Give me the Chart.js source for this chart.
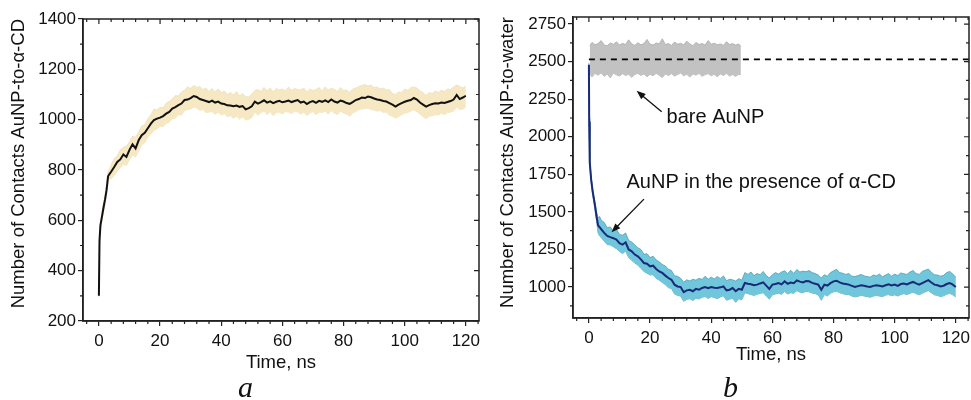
<!DOCTYPE html>
<html>
<head>
<meta charset="utf-8">
<script src="https://cdn.jsdelivr.net/npm/chart.js@4.4.1/dist/chart.umd.min.js"></script>
<style>
  html, body { margin: 0; background: #fff; }
  #wrap { position: relative; width: 971px; height: 400px; overflow: hidden; }
  .pane { position: absolute; top: 0; height: 400px; }
  .tag { position: absolute; top: 372px; font: italic 30px/30px "Liberation Serif", "DejaVu Serif", serif; color: #111; }
</style>
</head>
<body>
<div id="wrap">
  <div class="pane" style="left:0;width:487px"><canvas id="chartA"></canvas></div>
  <div class="pane" style="left:487px;width:490px"><canvas id="chartB"></canvas></div>
  <div class="tag" style="left:238px">a</div>
  <div class="tag" style="left:723px">b</div>
</div>
<script>
/* contactos AuNP: (a) con α-CD, (b) con agua */
const INK = '#111', FRAME = '#222';

/* ---- panel a: tiempo (ns), media y banda ---- */
const tA = [0, 0.2, 0.5, 1, 1.5, 2, 2.5, 3, 3.5,
  4, 5, 6, 7, 8, 9, 10, 11, 12, 13, 14, 15, 16, 17, 18, 19, 20,
  21, 22, 23, 24, 25, 26, 27, 28, 29, 30, 31, 32, 33, 34, 35, 36, 37, 38, 39, 40,
  41, 42, 43, 44, 45, 46, 47, 48, 49, 50, 51, 52, 53, 54, 55, 56, 57, 58, 59, 60,
  61, 62, 63, 64, 65, 66, 67, 68, 69, 70, 71, 72, 73, 74, 75, 76, 77, 78, 79, 80,
  81, 82, 83, 84, 85, 86, 87, 88, 89, 90, 91, 92, 93, 94, 95, 96, 97, 98, 99, 100,
  101, 102, 103, 104, 105, 106, 107, 108, 109, 110, 111, 112, 113, 114, 115, 116, 117, 118, 119, 120];
const meanA = [300, 520, 580, 615, 650, 682, 720, 775, 785,
  793, 812, 832, 842, 862, 852, 880, 902, 886, 918, 938, 948, 966, 984, 998, 1004, 1008,
  1014, 1024, 1031, 1044, 1050, 1058, 1064, 1078, 1080, 1086, 1094, 1090, 1082, 1078, 1074, 1070, 1076, 1068, 1072, 1064,
  1062, 1057, 1056, 1053, 1056, 1051, 1054, 1041, 1046, 1053, 1072, 1064, 1070, 1077, 1068, 1073, 1066, 1071, 1075, 1069,
  1072, 1076, 1070, 1074, 1078, 1068, 1072, 1062, 1070, 1074, 1067, 1075, 1071, 1077, 1070, 1080, 1072, 1068, 1076, 1072,
  1066, 1063, 1070, 1078, 1082, 1088, 1086, 1092, 1089, 1084, 1080, 1078, 1074, 1072, 1066, 1060, 1052, 1060, 1066, 1071,
  1075, 1078, 1086, 1080, 1068, 1060, 1052, 1058, 1062, 1065, 1064, 1068, 1066, 1070, 1074, 1080, 1098, 1082, 1088, 1095];
const hiA = [310, 540, 600, 632, 668, 700, 740, 795, 805,
  822, 845, 858, 880, 890, 895, 912, 935, 930, 952, 975, 980, 1004, 1020, 1042, 1038, 1050,
  1046, 1066, 1072, 1082, 1096, 1094, 1110, 1118, 1130, 1124, 1136, 1128, 1132, 1120, 1126, 1112, 1124, 1110, 1122, 1108,
  1114, 1100, 1108, 1098, 1112, 1094, 1104, 1092, 1090, 1102, 1116, 1120, 1112, 1128, 1114, 1126, 1110, 1124, 1118, 1122,
  1114, 1130, 1116, 1124, 1120, 1118, 1126, 1110, 1122, 1116, 1120, 1128, 1114, 1130, 1118, 1126, 1120, 1112, 1128, 1116,
  1118, 1108, 1122, 1126, 1132, 1136, 1140, 1134, 1138, 1128, 1130, 1122, 1126, 1118, 1120, 1104, 1100, 1110, 1108, 1122,
  1116, 1128, 1130, 1126, 1114, 1108, 1096, 1108, 1104, 1114, 1108, 1118, 1112, 1122, 1120, 1130, 1138, 1132, 1126, 1134];
const loA = [295, 500, 560, 598, 632, 664, 700, 755, 765,
  765, 778, 795, 810, 822, 818, 842, 860, 852, 876, 900, 908, 930, 942, 958, 962, 974,
  972, 986, 990, 1004, 1006, 1020, 1018, 1036, 1040, 1042, 1050, 1046, 1036, 1040, 1028, 1030, 1032, 1022, 1030, 1018,
  1024, 1012, 1016, 1006, 1014, 1002, 1012, 998, 1002, 1008, 1030, 1018, 1028, 1034, 1020, 1032, 1016, 1028, 1030, 1022,
  1032, 1030, 1024, 1034, 1030, 1022, 1030, 1016, 1026, 1032, 1020, 1030, 1028, 1034, 1022, 1036, 1026, 1020, 1034, 1026,
  1022, 1014, 1026, 1032, 1040, 1042, 1044, 1046, 1040, 1038, 1034, 1036, 1028, 1030, 1018, 1014, 1006, 1012, 1020, 1026,
  1028, 1034, 1040, 1032, 1022, 1012, 1004, 1014, 1016, 1020, 1018, 1026, 1020, 1028, 1030, 1034, 1050, 1040, 1042, 1050];

/* ---- panel b: AuNP con α-CD ---- */
const tB = [0, 0.1, 0.2, 0.35, 0.75, 1.2, 1.6, 2, 2.5, 3, 3.5, 4,
  5, 6, 7, 8, 9, 10, 11, 12, 13, 14, 15, 16, 17, 18, 19, 20,
  21, 22, 23, 24, 25, 26, 27, 28, 29, 30, 31, 32, 33, 34, 35, 36, 37, 38, 39, 40,
  41, 42, 43, 44, 45, 46, 47, 48, 49, 50, 51, 52, 53, 54, 55, 56, 57, 58, 59, 60,
  61, 62, 63, 64, 65, 66, 67, 68, 69, 70, 71, 72, 73, 74, 75, 76, 77, 78, 79, 80,
  81, 82, 83, 84, 85, 86, 87, 88, 89, 90, 91, 92, 93, 94, 95, 96, 97, 98, 99, 100,
  101, 102, 103, 104, 105, 106, 107, 108, 109, 110, 111, 112, 113, 114, 115, 116, 117, 118, 119, 120];
const meanB = [2480, 2100, 1900, 1830, 1713, 1640, 1590, 1540, 1470, 1410, 1398, 1385,
  1360, 1340, 1332, 1325, 1316, 1292, 1282, 1298, 1250, 1238, 1216, 1204, 1184, 1160, 1155, 1138,
  1142, 1120, 1104, 1094, 1076, 1060, 1048, 1016, 1004, 1000, 966, 978, 982, 972, 988, 982, 994, 1000, 992, 1000,
  996, 993, 998, 1004, 978, 982, 993, 972, 988, 982, 1027, 1022, 1018, 1012, 1016, 1024, 1031, 1009, 987, 1016,
  1020, 1027, 1018, 1038, 1022, 1030, 1026, 1044, 1036, 1031, 1040, 1038, 1028, 1022, 1016, 982, 1016, 1010, 1026, 1038,
  1042, 1031, 1024, 1020, 1016, 1008, 1000, 1006, 1012, 1009, 1004, 1000, 1008, 1012, 1009, 1004, 1012, 1018, 1010, 1016,
  1008, 1020, 1024, 1018, 1027, 1034, 1024, 1016, 1026, 1036, 1046, 1030, 1016, 1012, 1004, 1009, 1020, 1027, 1016, 1000];
const hiB = [2490, 2120, 1920, 1850, 1730, 1660, 1610, 1565, 1500, 1460, 1470, 1445,
  1430, 1395, 1400, 1372, 1385, 1350, 1345, 1360, 1310, 1300, 1280, 1262, 1250, 1218, 1222, 1196,
  1205, 1180, 1168, 1150, 1140, 1118, 1110, 1075, 1072, 1058, 1032, 1048, 1040, 1052, 1046, 1058, 1050, 1072, 1052, 1066,
  1054, 1070, 1056, 1074, 1042, 1052, 1048, 1040, 1056, 1046, 1096, 1084, 1100, 1076, 1090, 1082, 1104, 1076, 1060, 1082,
  1096, 1086, 1100, 1108, 1088, 1112, 1090, 1116, 1100, 1106, 1102, 1110, 1096, 1090, 1080, 1060, 1082, 1072, 1096, 1108,
  1118, 1096, 1092, 1084, 1090, 1072, 1070, 1076, 1084, 1074, 1070, 1066, 1080, 1074, 1086, 1068, 1080, 1090, 1072, 1086,
  1076, 1094, 1088, 1084, 1100, 1110, 1090, 1084, 1104, 1112, 1120, 1098, 1082, 1080, 1072, 1078, 1096, 1104, 1086, 1066];
const loB = [2470, 2080, 1880, 1810, 1695, 1620, 1570, 1515, 1440, 1360, 1340, 1330,
  1305, 1282, 1280, 1268, 1255, 1238, 1222, 1240, 1196, 1178, 1160, 1146, 1124, 1104, 1092, 1080,
  1082, 1058, 1046, 1030, 1016, 996, 990, 954, 944, 940, 905, 918, 922, 910, 926, 920, 932, 938, 924, 936,
  930, 922, 934, 942, 912, 920, 924, 898, 922, 915, 962, 956, 950, 944, 952, 958, 962, 940, 920, 948,
  954, 958, 952, 970, 954, 962, 958, 976, 966, 962, 972, 968, 960, 956, 948, 912, 950, 940, 958, 968,
  972, 962, 956, 950, 950, 940, 934, 938, 946, 940, 936, 932, 940, 944, 940, 936, 946, 950, 942, 948,
  940, 950, 956, 950, 958, 966, 956, 948, 958, 968, 976, 962, 948, 944, 936, 942, 952, 958, 948, 934];

/* ---- panel b: AuNP desnuda (0-50 ns) ---- */
const tBare = [0.3, 1, 2, 3, 4, 5, 6, 7, 8, 9, 10, 11, 12, 13, 14, 15, 16, 17, 18, 19, 20,
  21, 22, 23, 24, 25, 26, 27, 28, 29, 30, 31, 32, 33, 34, 35, 36, 37, 38, 39, 40,
  41, 42, 43, 44, 45, 46, 47, 48, 49, 49.7];
const hiBare = [2605, 2628, 2612, 2620, 2640, 2610, 2606, 2624, 2615, 2632,
  2610, 2622, 2614, 2645, 2618, 2608, 2626, 2612, 2620, 2648,
  2616, 2610, 2624, 2618, 2652, 2614, 2620, 2608, 2630, 2616,
  2622, 2612, 2636, 2618, 2606, 2628, 2614, 2620, 2610, 2640,
  2616, 2622, 2612, 2618, 2608, 2632, 2614, 2620, 2610, 2618, 2600];
const loBare = [2420, 2398, 2422, 2410, 2426, 2402, 2418, 2392, 2424, 2412,
  2404, 2420, 2408, 2416, 2396, 2414, 2422, 2408, 2418, 2400,
  2416, 2406, 2422, 2410, 2394, 2418, 2408, 2420, 2404, 2414,
  2424, 2406, 2416, 2398, 2418, 2410, 2422, 2402, 2414, 2420,
  2406, 2416, 2400, 2418, 2408, 2422, 2404, 2414, 2402, 2416, 2412];
const dashX = [0, 124.3], dashY = [2515, 2515];

/* ---- ticks ---- */
const X_TICKS = [0, 20, 40, 60, 80, 100, 120];
const X_MINOR = [-4, 4, 8, 12, 16, 24, 28, 32, 36, 44, 48, 52, 56, 64, 68, 72, 76, 84, 88, 92, 96, 104, 108, 112, 116, 124];
const A_Y_TICKS = [200, 400, 600, 800, 1000, 1200, 1400];
const A_Y_MINOR = [300, 500, 700, 900, 1100, 1300];
const B_Y_TICKS = [1000, 1250, 1500, 1750, 2000, 2250, 2500, 2750];
const B_Y_MINOR = [875, 1125, 1375, 1625, 1875, 2125, 2375, 2625];

Chart.defaults.font.family = '"Liberation Sans", Arial, sans-serif';
Chart.defaults.color = INK;

const xy = (xs, ys) => xs.map((x, i) => ({ x, y: ys[i] }));

/* marco completo + ticks menores y espejo (arriba / derecha, hacia dentro) */
const frame = {
  id: 'frame',
  afterDraw(chart, args, o) {
    const { ctx, chartArea: a, scales: { x, y } } = chart;
    ctx.save();
    ctx.strokeStyle = FRAME;
    ctx.lineWidth = 1.5;
    ctx.strokeRect(a.left, a.top, a.right - a.left, a.bottom - a.top);
    ctx.lineWidth = 1.2;
    ctx.beginPath();
    X_TICKS.forEach(v => { const p = x.getPixelForValue(v); ctx.moveTo(p, a.top); ctx.lineTo(p, a.top + 5); });
    X_MINOR.forEach(v => {
      const p = x.getPixelForValue(v);
      ctx.moveTo(p, a.top); ctx.lineTo(p, a.top + 3);
      ctx.moveTo(p, a.bottom); ctx.lineTo(p, a.bottom + 3);
    });
    o.yMajor.forEach(v => { const p = y.getPixelForValue(v); ctx.moveTo(a.right, p); ctx.lineTo(a.right - 5, p); });
    o.yMinor.forEach(v => {
      const p = y.getPixelForValue(v);
      ctx.moveTo(a.right, p); ctx.lineTo(a.right - 3, p);
      ctx.moveTo(a.left, p); ctx.lineTo(a.left - 3, p);
    });
    ctx.stroke();
    ctx.restore();
  }
};

/* textos con flecha (coordenadas en unidades de datos) */
const notes = {
  id: 'notes',
  afterDraw(chart, args, o) {
    if (!o.items) return;
    const { ctx, scales: { x, y } } = chart;
    ctx.save();
    o.items.forEach(n => {
      ctx.font = '20px "Liberation Sans", Arial, sans-serif';
      ctx.fillStyle = INK;
      ctx.textBaseline = 'middle';
      ctx.fillText(n.label, x.getPixelForValue(n.at[0]), y.getPixelForValue(n.at[1]));
      const x0 = x.getPixelForValue(n.from[0]), y0 = y.getPixelForValue(n.from[1]);
      const x1 = x.getPixelForValue(n.to[0]), y1 = y.getPixelForValue(n.to[1]);
      const ang = Math.atan2(y1 - y0, x1 - x0);
      ctx.strokeStyle = INK; ctx.lineWidth = 1.3;
      ctx.beginPath(); ctx.moveTo(x0, y0);
      ctx.lineTo(x1 - 6 * Math.cos(ang), y1 - 6 * Math.sin(ang)); ctx.stroke();
      ctx.beginPath();
      ctx.moveTo(x1, y1);
      ctx.lineTo(x1 - 9 * Math.cos(ang) + 3.5 * Math.sin(ang), y1 - 9 * Math.sin(ang) - 3.5 * Math.cos(ang));
      ctx.lineTo(x1 - 9 * Math.cos(ang) - 3.5 * Math.sin(ang), y1 - 9 * Math.sin(ang) + 3.5 * Math.cos(ang));
      ctx.closePath(); ctx.fill();
    });
    ctx.restore();
  }
};

function axes(yTicks, yMin, yMax, yWidth, yTitle, yTitlePad, xHeight) {
  const grid = { display: true, drawOnChartArea: false, drawTicks: true, tickLength: 5, color: FRAME, lineWidth: 1.2 };
  const border = { display: true, color: FRAME, width: 1.5 };
  const plain = v => String(v);
  return {
    x: {
      type: 'linear', min: -5.2, max: 124.3,
      afterBuildTicks: s => { s.ticks = X_TICKS.map(value => ({ value })); },
      afterFit: s => { s.height = xHeight; },
      grid, border,
      ticks: { padding: 5, font: { size: 17 }, color: INK, maxRotation: 0, autoSkip: false, callback: plain },
      title: { display: true, text: 'Time, ns', font: { size: 18.5 }, color: INK, padding: { top: 0, bottom: 4 } }
    },
    y: {
      type: 'linear', min: yMin, max: yMax,
      afterBuildTicks: s => { s.ticks = yTicks.map(value => ({ value })); },
      afterFit: s => { s.width = yWidth; },
      grid, border,
      ticks: { padding: 2, font: { size: 17 }, color: INK, autoSkip: false, callback: plain },
      title: { display: true, text: yTitle, align: 'end', font: { size: 18.5 }, color: INK, padding: yTitlePad }
    }
  };
}

const line = { pointRadius: 0, tension: 0 };

new Chart('chartA', {
  type: 'line',
  data: {
    datasets: [
      { ...line, data: xy(tA, meanA), borderColor: '#111', borderWidth: 2, fill: false, order: 0 },
      { ...line, data: xy(tA, hiA), borderColor: 'rgba(232,208,155,.6)', borderWidth: .8,
        backgroundColor: 'rgba(246,228,186,.85)', fill: '+1', order: 1 },
      { ...line, data: xy(tA, loA), borderColor: 'rgba(232,208,155,.6)', borderWidth: .8, fill: false, order: 1 }
    ]
  },
  options: {
    animation: false, responsive: true, maintainAspectRatio: false,
    layout: { padding: { top: 19, right: 8, bottom: 22, left: 0 } },
    plugins: { legend: { display: false }, tooltip: { enabled: false },
      frame: { yMajor: A_Y_TICKS, yMinor: A_Y_MINOR } },
    scales: axes(A_Y_TICKS, 200, 1400, 83, 'Number of Contacts AuNP-to-α-CD', 8, 57)
  },
  plugins: [frame]
});

new Chart('chartB', {
  type: 'line',
  data: {
    datasets: [
      { ...line, data: xy(tB, meanB), borderColor: '#1b2a78', borderWidth: 2, fill: false, order: 0 },
      { ...line, data: xy(dashX, dashY), borderColor: '#000', borderWidth: 1.6, borderDash: [6, 5], fill: false, order: 1 },
      { ...line, data: xy(tB, hiB), borderColor: '#4d9fb6', borderWidth: .8,
        backgroundColor: '#70c6da', fill: '+1', order: 2 },
      { ...line, data: xy(tB, loB), borderColor: '#4d9fb6', borderWidth: .8, fill: false, order: 2 },
      { ...line, data: xy(tBare, hiBare), borderColor: '#a9a9a9', borderWidth: .8,
        backgroundColor: '#c2c2c2', fill: '+1', order: 3 },
      { ...line, data: xy(tBare, loBare), borderColor: '#a9a9a9', borderWidth: .8, fill: false, order: 3 }
    ]
  },
  options: {
    animation: false, responsive: true, maintainAspectRatio: false,
    layout: { padding: { top: 17, right: 8, bottom: 30, left: 0 } },
    plugins: { legend: { display: false }, tooltip: { enabled: false },
      frame: { yMajor: B_Y_TICKS, yMinor: B_Y_MINOR },
      notes: { items: [
        { label: 'bare AuNP', at: [25.4, 2131], from: [23.8, 2166], to: [15.6, 2306] },
        { label: 'AuNP in the presence of α-CD', at: [12.3, 1695], from: [18.0, 1585], to: [7.4, 1364] }
      ] } },
    scales: axes(B_Y_TICKS, 794, 2797, 86, 'Number of Contacts AuNP-to-water', 10, 52)
  },
  plugins: [frame, notes]
});
</script>
</body>
</html>
